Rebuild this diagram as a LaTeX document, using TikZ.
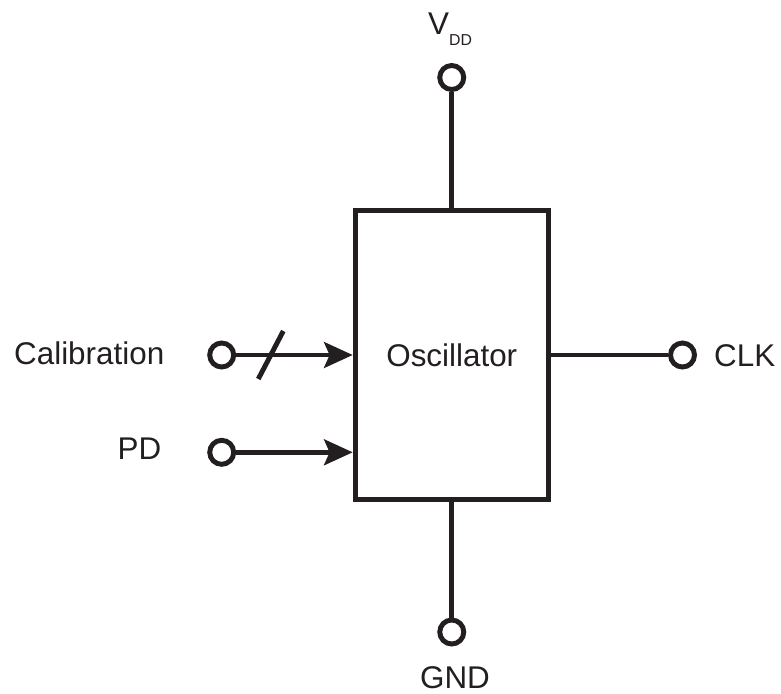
\documentclass[tikz,border=0pt]{standalone}
\usepackage{fontspec}
\setmainfont{Liberation Sans}
\usetikzlibrary{positioning, arrows.meta, calc}
\definecolor{ink}{HTML}{231F20}

\begin{document}
\begin{tikzpicture}[
        x=0.03cm, y=-0.03cm,
        >={Stealth[length=0.87cm, width=0.8cm, inset=0.18cm, line width=0pt]},
        wire/.style={line width=4.2pt, draw=ink},
        block/.style={wire, rectangle, minimum width=5.8cm, minimum height=8.67cm},
        terminal/.style={wire, circle, minimum size=0.72cm, inner sep=0pt},
        signame/.style={text=ink, inner sep=0pt, font=\fontsize{26.8}{30}\selectfont},
    ]
        \useasboundingbox (0,0) rectangle (781,693);

        % Draw the oscillator block
        \node[block, signame] (osc) at (451.75,355) {Oscillator};

        % Draw the terminals
        \node[terminal] (vdd) at (451.75,77.5) {};
        \node[terminal] (gnd) at (451.75,632) {};
        \node[terminal] (clk) at (682.5,355) {};
        \node[terminal] (cal) at (221.7,355) {};
        \node[terminal] (pd) at (221.7,452.3) {};

        % Connect the supply and the output
        \draw[wire] (vdd) -- (osc);
        \draw[wire] (osc) -- (gnd);
        \draw[wire] (osc) -- (clk);

        % Connect the inputs, the calibration one is a bus
        \draw[wire, ->] (cal) -- (cal -| osc.west);
        \draw[wire, ->] (pd) -- (pd -| osc.west);
        \coordinate (bus) at ($(cal)!0.375!(cal -| osc.west)$);
        \draw[wire] ([shift={(-12.5,24)}]bus) -- ([shift={(12.5,-24)}]bus);

        % Signal names
        \node[signame, anchor=base west] (vdd-name) at (428,34.3) {V\raisebox{-0.33cm}{\fontsize{13.5}{15}\selectfont DD}};
        \node[signame, anchor=base] (gnd-name) at (455,688) {GND};
        \node[signame, anchor=base west] (clk-name) at (714,366.7) {CLK};
        \node[signame, anchor=base east] (cal-name) at (164.5,364) {Calibration};
        \node[signame, anchor=base east] (pd-name) at (161.5,459.3) {PD};
    \end{tikzpicture}
\end{document}
